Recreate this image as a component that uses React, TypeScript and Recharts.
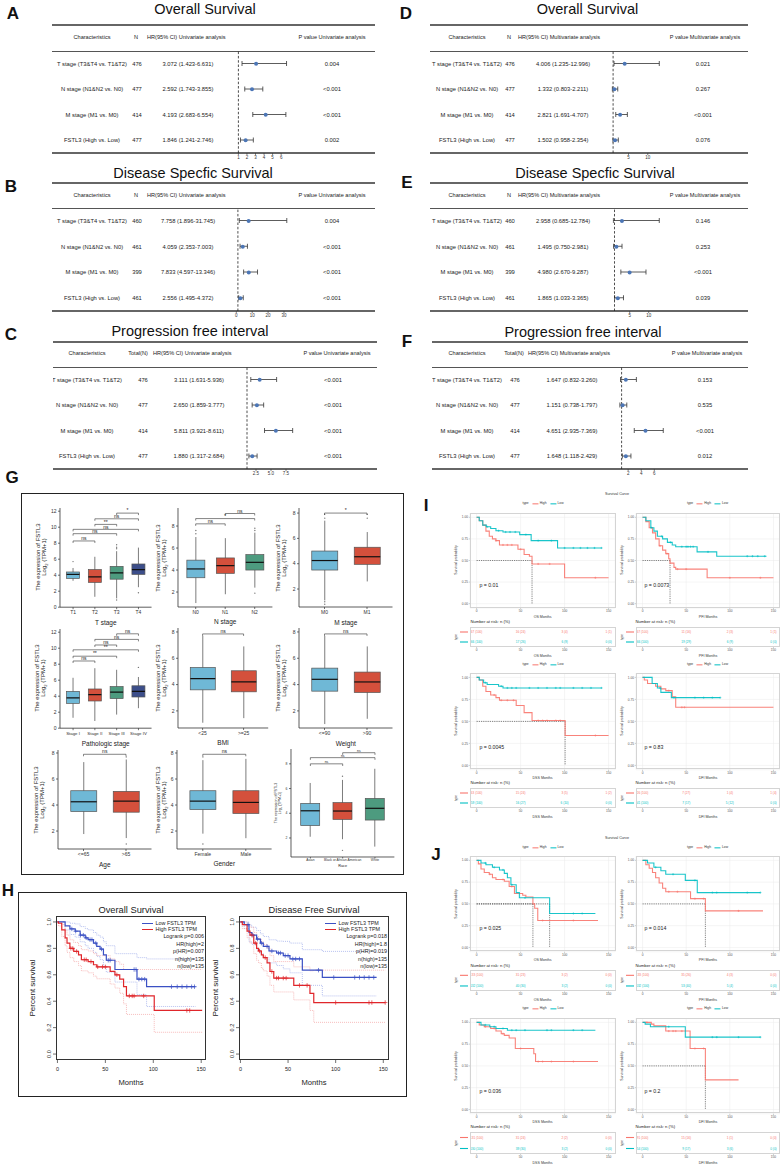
import React from 'react';
import { ComposedChart, Line, Bar, XAxis, YAxis, ReferenceLine, Scatter, CartesianGrid, Label } from 'recharts';

const FF = '"Liberation Sans", Arial, Helvetica, sans-serif';

/* ================= A–F : forest tables ================= */
const forestChars = ['T stage (T3&T4 vs. T1&T2)', 'N stage (N1&N2 vs. N0)', 'M stage (M1 vs. M0)', 'FSTL3 (High vs. Low)'];

const osUniN = [476, 477, 414, 477];
const osUniHR = [3.072, 2.592, 4.193, 1.846];
const osUniLo = [1.423, 1.743, 2.683, 1.241];
const osUniHi = [6.631, 3.855, 6.554, 2.746];
const osUniP = ['0.004', '<0.001', '<0.001', '0.002'];

const dssUniN = [460, 461, 399, 461];
const dssUniHR = [7.758, 4.059, 7.833, 2.556];
const dssUniLo = [1.896, 2.353, 4.597, 1.495];
const dssUniHi = [31.745, 7.003, 13.346, 4.372];
const dssUniP = ['0.004', '<0.001', '<0.001', '<0.001'];

const pfiUniN = [476, 477, 414, 477];
const pfiUniHR = [3.111, 2.65, 5.811, 1.88];
const pfiUniLo = [1.631, 1.859, 3.921, 1.317];
const pfiUniHi = [5.936, 3.777, 8.611, 2.684];
const pfiUniP = ['<0.001', '<0.001', '<0.001', '<0.001'];

const osMulN = [476, 477, 414, 477];
const osMulHR = [4.006, 1.332, 2.821, 1.502];
const osMulLo = [1.235, 0.803, 1.691, 0.958];
const osMulHi = [12.996, 2.211, 4.707, 2.354];
const osMulP = ['0.021', '0.267', '<0.001', '0.076'];

const dssMulN = [460, 461, 399, 461];
const dssMulHR = [2.958, 1.495, 4.98, 1.865];
const dssMulLo = [0.685, 0.75, 2.67, 1.033];
const dssMulHi = [12.784, 2.981, 9.287, 3.365];
const dssMulP = ['0.146', '0.253', '<0.001', '0.039'];

const pfiMulN = [476, 477, 414, 477];
const pfiMulHR = [1.647, 1.151, 4.651, 1.648];
const pfiMulLo = [0.832, 0.738, 2.935, 1.118];
const pfiMulHi = [3.26, 1.797, 7.369, 2.429];
const pfiMulP = ['0.153', '0.535', '<0.001', '0.012'];

const ticksA = [1, 2, 3, 4, 5, 6];
const ticksB = [0, 10, 20, 30];
const ticksC = [2.5, 5, 7.5];
const ticksDE = [5, 10];
const ticksF = [2, 4, 6];

/* ================= G : box plots ================= */
const tCats = ['T1', 'T2', 'T3', 'T4'];
const tLo = [3.3, 1.3, 1.1, 2.5];
const tQ1 = [3.6, 3.1, 3.5, 4.1];
const tMed = [4.1, 3.8, 4.3, 4.7];
const tQ3 = [4.4, 4.7, 5.1, 5.4];
const tHi = [4.9, 6.3, 7.0, 7.45];
const tOut = [[5.7], [], [0.9, 7.3, 7.5, 7.8], [1.8]];
const tBr: [number, number, number, string][] = [[0, 1, 8.28, 'ns'], [0, 2, 9.19, 'ns'], [0, 3, 9.73, 'ns'], [1, 2, 10.35, '**'], [1, 3, 11.05, 'ns'], [2, 3, 11.76, '*']];

const nCats = ['N0', 'N1', 'N2'];
const nLo = [1.0, 1.8, 2.4];
const nQ1 = [3.3, 3.7, 4.0];
const nMed = [4.1, 4.4, 4.7];
const nQ3 = [4.9, 5.1, 5.4];
const nHi = [7.0, 6.9, 7.4];
const nOut = [[7.3, 7.6], [], [1.9, 7.6, 7.8]];
const nBr: [number, number, number, string][] = [[0, 1, 8.2, 'ns'], [0, 2, 8.68, '*'], [1, 2, 9.14, 'ns']];

const mCats = ['M0', 'M1'];
const mLo = [1.1, 2.6];
const mQ1 = [3.5, 3.95];
const mMed = [4.25, 4.55];
const mQ3 = [5.0, 5.3];
const mHi = [7.4, 6.5];
const mOut = [[0.8, 1.0, 7.6, 7.9], [7.6, 7.9]];
const mBr: [number, number, number, string][] = [[0, 1, 8.0, '*']];

const pCats = ['Stage I', 'Stage II', 'Stage III', 'Stage IV'];
const pLo = [1.3, 0.9, 1.7, 2.5];
const pQ1 = [3.1, 3.4, 3.7, 3.9];
const pMed = [3.8, 4.2, 4.5, 4.6];
const pQ3 = [4.6, 4.9, 5.2, 5.3];
const pHi = [6.3, 7.5, 7.3, 6.4];
const pOut = [[], [], [], [7.6]];
const pBr: [number, number, number, string][] = [[0, 1, 8.4, 'ns'], [0, 2, 9.0, '**'], [0, 3, 9.8, '**'], [1, 2, 10.4, 'ns'], [1, 3, 11.1, 'ns'], [2, 3, 11.8, 'ns']];

const bmiCats = ['<25', '>=25'];
const bmiLo = [1.1, 1.45];
const bmiQ1 = [3.6, 3.45];
const bmiMed = [4.46, 4.2];
const bmiQ3 = [5.3, 5.05];
const bmiHi = [7.7, 6.9];
const bmiOut = [[], []];
const bmiBr: [number, number, number, string][] = [[0, 1, 7.85, 'ns']];

const wCats = ['<=90', '>90'];
const wLo = [1.0, 1.4];
const wQ1 = [3.5, 3.4];
const wMed = [4.4, 4.2];
const wQ3 = [5.25, 4.95];
const wHi = [7.7, 6.9];
const wOut = [[], []];
const wBr: [number, number, number, string][] = [[0, 1, 7.85, 'ns']];

const ageCats = ['<=65', '>65'];
const ageLo = [1.77, 1.46];
const ageQ1 = [3.5, 3.45];
const ageMed = [4.25, 4.3];
const ageQ3 = [5.1, 5.05];
const ageHi = [7.3, 7.5];
const ageOut = [[], [1.0, 7.7]];
const ageBr: [number, number, number, string][] = [[0, 1, 7.9, 'ns']];

const gCats = ['Female', 'Male'];
const gLo = [1.8, 1.45];
const gQ1 = [3.65, 3.35];
const gMed = [4.3, 4.2];
const gQ3 = [5.1, 5.1];
const gHi = [7.45, 7.55];
const gOut = [[1.0, 7.7], []];
const gBr: [number, number, number, string][] = [[0, 1, 7.9, 'ns']];

const rCats = ['Asian', 'Black or African American', 'White'];
const rLo = [2.1, 1.9, 1.3];
const rQ1 = [3.0, 3.5, 3.45];
const rMed = [4.2, 4.18, 4.4];
const rQ3 = [4.8, 4.86, 5.2];
const rHi = [6.45, 6.7, 7.6];
const rOut = [[], [1.0, 7.0], []];
const rBr: [number, number, number, string][] = [[0, 1, 8.0, 'ns'], [0, 2, 8.5, 'ns'], [1, 2, 8.9, 'ns']];

/* ================= H : GEPIA survival ================= */
const hOsLowT = [0, 8, 13, 18.5, 23.7, 29, 32, 37.6, 41, 44.5, 48, 51, 60, 83, 93, 144];
const hOsLowS = [1, 0.97, 0.947, 0.93, 0.9, 0.88, 0.866, 0.84, 0.815, 0.795, 0.75, 0.71, 0.64, 0.567, 0.51, 0.51];
const hOsLowUp = [1, 1, 0.99, 0.985, 0.965, 0.95, 0.94, 0.92, 0.9, 0.885, 0.85, 0.82, 0.76, 0.73, 0.72, 0.72];
const hOsLowDn = [1, 0.94, 0.905, 0.885, 0.85, 0.82, 0.8, 0.77, 0.74, 0.715, 0.665, 0.62, 0.545, 0.45, 0.36, 0.36];
const hOsLowC = [15, 19, 24, 27, 30, 34, 36, 40, 46, 53, 55, 80, 82, 85, 88, 91, 119, 125, 130, 135, 140, 143];

const hOsHighT = [0, 1, 4.5, 8, 10, 13, 17, 22, 25, 32, 37.6, 41, 55, 60, 65, 69, 72, 101, 151];
const hOsHighS = [1, 0.99, 0.94, 0.88, 0.84, 0.8, 0.777, 0.75, 0.714, 0.7, 0.676, 0.66, 0.626, 0.6, 0.567, 0.51, 0.44, 0.33, 0.33];
const hOsHighUp = [1, 1, 0.98, 0.935, 0.9, 0.865, 0.845, 0.82, 0.79, 0.78, 0.76, 0.745, 0.72, 0.7, 0.68, 0.64, 0.64, 0.64, 0.64];
const hOsHighDn = [1, 0.97, 0.89, 0.82, 0.77, 0.73, 0.7, 0.67, 0.63, 0.615, 0.59, 0.57, 0.53, 0.5, 0.46, 0.38, 0.3, 0.165, 0.165];
const hOsHighC = [14, 16, 20, 28, 30, 35, 42, 47, 50, 62, 75, 78, 80, 90, 135, 138];

const hDfsLowT = [0, 4, 9, 12, 17, 21, 24, 30, 38, 45, 52, 65, 86, 143];
const hDfsLowS = [1, 0.98, 0.92, 0.9, 0.87, 0.84, 0.815, 0.78, 0.765, 0.745, 0.72, 0.635, 0.58, 0.58];
const hDfsLowUp = [1, 1, 0.975, 0.96, 0.935, 0.91, 0.89, 0.865, 0.855, 0.853, 0.84, 0.79, 0.777, 0.777];
const hDfsLowDn = [1, 0.95, 0.85, 0.83, 0.79, 0.76, 0.73, 0.69, 0.67, 0.645, 0.615, 0.52, 0.44, 0.44];
const hDfsLowC = [8, 13, 18, 22, 28, 33, 40, 42, 47, 50, 55, 58, 62, 82, 98, 120, 125, 130, 135, 140];

const hDfsHighT = [0, 2, 7, 10, 14, 17, 19, 22, 24, 28, 31, 35, 56, 73, 77, 152];
const hDfsHighS = [1, 0.98, 0.93, 0.9, 0.84, 0.8, 0.78, 0.75, 0.73, 0.69, 0.625, 0.575, 0.52, 0.46, 0.39, 0.39];
const hDfsHighUp = [1, 1, 0.98, 0.96, 0.92, 0.89, 0.87, 0.85, 0.83, 0.8, 0.745, 0.7, 0.66, 0.63, 0.635, 0.635];
const hDfsHighDn = [1, 0.95, 0.88, 0.84, 0.76, 0.71, 0.69, 0.65, 0.63, 0.59, 0.52, 0.47, 0.41, 0.33, 0.24, 0.24];
const hDfsHighC = [12, 16, 20, 26, 33, 38, 40, 45, 48, 62, 70, 100, 135, 138, 152];

/* ================= I / J : survminer curves ================= */
const riskTimes = [0, 50, 100, 150];

const iOsHiT = [0, 3, 7, 10.6, 14.4, 18, 22, 26, 47, 54, 60, 63, 100, 150];
const iOsHiS = [1, 0.96, 0.91, 0.84, 0.78, 0.75, 0.73, 0.68, 0.63, 0.57, 0.55, 0.46, 0.3, 0.3];
const iOsHiC = [22, 30, 35, 40, 50, 70, 83, 135];
const iOsLoT = [0, 3, 7, 11, 16, 22, 30, 49, 62, 92, 142];
const iOsLoS = [1, 0.96, 0.91, 0.89, 0.87, 0.845, 0.83, 0.8, 0.73, 0.645, 0.645];
const iOsLoC = [12, 25, 33, 38, 44, 56, 70, 85, 100, 110, 118, 126, 134, 142];
const iOsMed = [63];
const iOsRiskHi = ['67 (100)', '16 (24)', '3 (4)', '1 (1)'];
const iOsRiskLo = ['66 (100)', '17 (26)', '6 (9)', '0 (0)'];

const iPfiHiT = [0, 3.8, 7.6, 11.4, 15, 19, 23, 26.6, 30, 31.5, 36, 38, 74, 150];
const iPfiHiS = [1, 0.95, 0.88, 0.82, 0.75, 0.67, 0.62, 0.58, 0.52, 0.47, 0.42, 0.4, 0.3, 0.3];
const iPfiHiC = [20, 28, 40, 50, 100, 135];
const iPfiLoT = [0, 3.8, 9.5, 13, 17, 23, 28.5, 34, 38, 62.5, 85, 142];
const iPfiLoS = [1, 0.96, 0.88, 0.84, 0.78, 0.75, 0.71, 0.68, 0.66, 0.6, 0.55, 0.55];
const iPfiLoC = [10, 22, 32, 45, 50, 52, 55, 58, 75, 120, 126, 132, 140];
const iPfiMed = [31.5];
const iPfiRiskHi = ['67 (100)', '11 (16)', '2 (3)', '1 (1)'];
const iPfiRiskLo = ['66 (100)', '19 (29)', '6 (9)', '0 (0)'];

const iDssHiT = [0, 3, 7, 10.6, 16, 22, 26, 45, 54, 63, 100.6, 150];
const iDssHiS = [1, 0.97, 0.9, 0.84, 0.8, 0.77, 0.74, 0.68, 0.6, 0.51, 0.34, 0.34];
const iDssHiC = [20, 28, 35, 42, 70, 75, 80, 90, 95, 135];
const iDssLoT = [0, 3, 8, 12, 25, 30, 142];
const iDssLoS = [1, 0.97, 0.94, 0.92, 0.9, 0.88, 0.88];
const iDssLoC = [10, 28, 35, 40, 45, 60, 70, 80, 90, 95, 110, 120, 130, 142];
const iDssMed = [100.6];
const iDssRiskHi = ['63 (100)', '15 (24)', '3 (5)', '1 (2)'];
const iDssRiskLo = ['59 (100)', '16 (27)', '6 (10)', '0 (0)'];

const iDfiHiT = [0, 2, 5.7, 15, 21, 26.6, 34, 38, 150];
const iDfiHiS = [1, 0.97, 0.93, 0.9, 0.87, 0.85, 0.78, 0.66, 0.66];
const iDfiHiC = [30, 45, 48];
const iDfiLoT = [0, 11, 17, 21, 33, 89];
const iDfiLoS = [1, 0.93, 0.88, 0.83, 0.77, 0.77];
const iDfiLoC = [20, 36, 60, 70, 80, 89];
const iDfiMed: number[] = [];
const iDfiRiskHi = ['26 (100)', '7 (27)', '1 (4)', '1 (4)'];
const iDfiRiskLo = ['41 (100)', '7 (17)', '5 (12)', '0 (0)'];

const jOsHiT = [0, 2, 5, 8.7, 14.4, 18, 22, 31.5, 37, 43, 52.4, 56, 64, 66, 69.5, 138];
const jOsHiS = [1, 0.96, 0.9, 0.86, 0.84, 0.8, 0.78, 0.76, 0.7, 0.62, 0.6, 0.58, 0.5, 0.45, 0.31, 0.31];
const jOsHiC = [15, 30, 40, 75, 110];
const jOsLoT = [0, 5, 10.6, 18, 26, 31.5, 35, 39, 45, 48.6, 83, 135];
const jOsLoS = [1, 0.97, 0.95, 0.92, 0.89, 0.85, 0.8, 0.72, 0.63, 0.57, 0.39, 0.39];
const jOsLoC = [10, 20, 30, 40, 55, 110, 120];
const jOsMed = [64, 83];
const jOsRiskHi = ['133 (100)', '31 (23)', '3 (2)', '0 (0)'];
const jOsRiskLo = ['132 (100)', '40 (30)', '3 (2)', '0 (0)'];

const jPfiHiT = [0, 3.8, 7.6, 11.4, 15, 19, 23, 26.6, 55, 72, 138];
const jPfiHiS = [1, 0.95, 0.91, 0.86, 0.8, 0.74, 0.68, 0.64, 0.56, 0.42, 0.42];
const jPfiHiC = [30, 40, 60, 70, 110];
const jPfiLoT = [0, 5.7, 13, 21, 26.6, 49, 62.7, 135];
const jPfiLoS = [1, 0.97, 0.92, 0.88, 0.84, 0.77, 0.63, 0.63];
const jPfiLoC = [15, 35, 60, 80, 85, 120, 135];
const jPfiMed = [72];
const jPfiRiskHi = ['133 (100)', '35 (26)', '4 (3)', '0 (0)'];
const jPfiRiskLo = ['132 (100)', '53 (40)', '5 (4)', '0 (0)'];

const jDssHiT = [0, 3, 8.7, 16, 22, 28, 31.5, 37, 44, 65, 67, 138];
const jDssHiS = [1, 0.97, 0.95, 0.93, 0.9, 0.87, 0.85, 0.82, 0.7, 0.64, 0.55, 0.55];
const jDssHiC = [10, 20, 30, 50, 70, 75, 85, 110];
const jDssLoT = [0, 5, 15, 22, 35, 135];
const jDssLoS = [1, 0.97, 0.95, 0.93, 0.91, 0.91];
const jDssLoC = [10, 20, 30, 40, 45, 55, 80, 85, 110, 120];
const jDssMed: number[] = [];
const jDssRiskHi = ['131 (100)', '31 (24)', '2 (2)', '0 (0)'];
const jDssRiskLo = ['130 (100)', '39 (30)', '3 (2)', '0 (0)'];

const jDfiHiT = [0, 10, 13, 26.6, 54.5, 72, 110];
const jDfiHiS = [1, 0.98, 0.96, 0.9, 0.7, 0.34, 0.34];
const jDfiHiC = [5, 30, 35, 38, 45, 60, 70];
const jDfiLoT = [0, 3, 9, 49, 135];
const jDfiLoS = [1, 0.98, 0.95, 0.83, 0.83];
const jDfiLoC = [30, 80, 85, 110, 135];
const jDfiMed = [72];
const jDfiRiskHi = ['91 (100)', '15 (16)', '1 (1)', '0 (0)'];
const jDfiRiskLo = ['54 (100)', '9 (17)', '3 (6)', '0 (0)'];

/* ================= helpers ================= */
const RED = '#F8766D';
const TEAL = '#00BFC4';
const BOXPAL = ['#6FB8D6', '#D4503C', '#4D9B7F', '#3C4E8A'];

const stepAt = (T: number[], S: number[], t: number) => {
  let v = S[0];
  for (let i = 0; i < T.length; i++) if (T[i] <= t) v = S[i];
  return v;
};
const toPts = (T: number[], S: number[]) => T.map((t, i) => ({ t, s: S[i] }));
const censPts = (T: number[], S: number[], C: number[]) => C.map((c) => ({ t: c, s: stepAt(T, S, c) }));
const plusShape = (color: string, h: number, w: number) => (pp: any) => (
  <g stroke={color} strokeWidth={w}>
    <line x1={pp.cx - h} x2={pp.cx + h} y1={pp.cy} y2={pp.cy} />
    <line x1={pp.cx} x2={pp.cx} y1={pp.cy - h} y2={pp.cy + h} />
  </g>
);

function Txt({ x, y, size, children, anchor = 'middle', weight = 400, color = '#222', rotate = 0 }: any) {
  const tx = anchor === 'middle' ? '-50%' : anchor === 'end' ? '-100%' : '0%';
  return (
    <div style={{ position: 'absolute', left: x, top: y, fontSize: size, fontWeight: weight, color, whiteSpace: 'nowrap', lineHeight: 1, fontFamily: FF, transform: `translate(${tx}, -50%) rotate(${rotate}deg)` }}>
      {children}
    </div>
  );
}
const HLine = ({ x1, x2, y, w = 1, c = '#555' }: any) => (
  <div style={{ position: 'absolute', left: x1, top: y - w / 2, width: x2 - x1, height: w, background: c }} />
);
const Frame = ({ x, y, w, h, c = '#333', bw = 1 }: any) => (
  <div style={{ position: 'absolute', left: x, top: y, width: w, height: h, border: `${bw}px solid ${c}`, boxSizing: 'border-box', pointerEvents: 'none' }} />
);

/* ================= Forest component ================= */
function Forest(p: any) {
  const rows = forestChars.map((c, i) => ({ name: c, n: p.n[i], hr: p.hr[i], lo: p.lo[i], hi: p.hi[i], pv: p.p[i] }));
  const fL = p.x1 + (p.dom[0] - 1) * p.ppu;
  const fR = p.x1 + (p.dom[1] - 1) * p.ppu;
  const W = p.right - p.left;
  const H = p.botLine - p.headLine + 12;
  const cc = { c: p.colChar - p.left, n: p.colN - p.left, h: p.colHR - p.left, p: p.colP - p.left };
  const tick = (t: any) => {
    const r = rows.find((rr) => rr.name === t.payload.value);
    if (!r) return <g />;
    const common = { y: t.y, dy: '0.35em', fontSize: 5.8, fill: '#222', textAnchor: 'middle' as const };
    return (
      <g>
        <text x={cc.c} {...common}>{r.name}</text>
        <text x={cc.n} {...common}>{r.n}</text>
        <text x={cc.h} {...common}>{`${r.hr.toFixed(3)} (${r.lo.toFixed(3)}-${r.hi.toFixed(3)})`}</text>
        <text x={cc.p} {...common}>{r.pv}</text>
      </g>
    );
  };
  const ciShape = (s: any) => {
    const a = Math.min(s.x, s.x + s.width);
    const b = Math.max(s.x, s.x + s.width);
    const cy = s.y + s.height / 2;
    const h = Math.abs(s.height) / 2;
    return (
      <g stroke="#333" strokeWidth={0.8}>
        <line x1={a} x2={b} y1={cy} y2={cy} />
        <line x1={a} x2={a} y1={cy - h} y2={cy + h} />
        <line x1={b} x2={b} y1={cy - h} y2={cy + h} />
      </g>
    );
  };
  return (
    <>
      <Txt x={p.letterX} y={p.letterY} size={17} weight={700} color="#111">{p.letter}</Txt>
      <Txt x={p.titleX} y={p.titleY} size={14.5} color="#111">{p.title}</Txt>
      <HLine x1={p.left} x2={p.right} y={p.topLine} w={1.3} c="#666" />
      <HLine x1={p.left} x2={p.right} y={p.headLine} w={1} c="#555" />
      <HLine x1={p.left} x2={p.right} y={p.botLine} w={1.3} c="#666" />
      <Txt x={p.colChar} y={p.headY} size={5.6}>Characteristics</Txt>
      <Txt x={p.nHeadX} y={p.headY} size={5.6}>{p.nHead}</Txt>
      <Txt x={p.hrHeadX} y={p.headY} size={5.6} anchor="start">{p.hrHead}</Txt>
      <Txt x={p.pHeadX} y={p.headY} size={5.6}>{p.pHead}</Txt>
      <div style={{ position: 'absolute', left: p.left, top: p.headLine }}>
        <ComposedChart layout="vertical" width={W} height={H} data={rows} margin={{ top: 0, right: p.right - fR, bottom: 0, left: 0 }}>
          <XAxis type="number" domain={p.dom} ticks={p.ticks} allowDataOverflow axisLine={false} tickSize={2} tickMargin={1}
            tickLine={{ stroke: '#333', strokeWidth: 0.6 }} tick={{ fontSize: 4.5, fill: '#333' }} height={12} interval={0}
            tickFormatter={p.fmt} />
          <YAxis type="category" dataKey="name" width={fL - p.left} axisLine={false} tickLine={false} tick={tick} interval={0} />
          <ReferenceLine x={1} stroke="#222" strokeDasharray="2.5 1.8" strokeWidth={0.8} />
          <Bar dataKey={(d: any) => [d.lo, d.hi]} barSize={5} shape={ciShape} isAnimationActive={false} />
          <Line dataKey="hr" stroke="none" dot={{ r: 2, fill: '#4C76B6', stroke: 'none' }} activeDot={false} isAnimationActive={false} />
        </ComposedChart>
      </div>
    </>
  );
}

/* ================= Box plot component ================= */
function YLab({ x, y, size }: any) {
  return (
    <div style={{ position: 'absolute', left: x, top: y, fontSize: size, lineHeight: 1.05, textAlign: 'center', whiteSpace: 'nowrap', color: '#222', fontFamily: FF, transform: 'translate(-50%, -50%) rotate(-90deg)' }}>
      <div>The expression of FSTL3</div>
      <div>Log<span style={{ fontSize: size * 0.7, position: 'relative', top: size * 0.25 }}>2</span> (TPM+1)</div>
    </div>
  );
}

function BoxPlot(p: any) {
  const { cats, lo, q1, med, q3, hi, out, c1, s, top, bottom, dom, ticks, xTitle, br, ylabX, small } = p;
  const n = cats.length;
  const L = c1 - 0.6 * s;
  const R = c1 + (n - 1) * s + 0.6 * s;
  const gL = 14, gT = 3, gR = 2;
  const gB = small ? 12 : 20;
  const fs = small ? 3.3 : p.tickFs || 5;
  const rows = cats.map((c: string, i: number) => ({ name: c, lo: lo[i], q1: q1[i], med: med[i], q3: q3[i], hi: hi[i], out: out[i] }));
  const shape = (b: any) => {
    const d = b.payload;
    const yt = Math.min(b.y, b.y + b.height);
    const yb = Math.max(b.y, b.y + b.height);
    const py = (v: number) => yb - ((v - d.lo) / (d.hi - d.lo)) * (yb - yt);
    const cx = b.x + b.width / 2;
    const ci = cats.indexOf(d.name);
    return (
      <g>
        <line x1={cx} x2={cx} y1={py(d.hi)} y2={py(d.lo)} stroke="#5a5a5a" strokeWidth={0.8} />
        <rect x={b.x} y={py(d.q3)} width={b.width} height={py(d.q1) - py(d.q3)} fill={BOXPAL[ci]} stroke="#555" strokeWidth={0.7} />
        <line x1={b.x} x2={b.x + b.width} y1={py(d.med)} y2={py(d.med)} stroke="#111" strokeWidth={1.2} />
        {d.out.map((v: number, k: number) => <circle key={k} cx={cx} cy={py(v)} r={0.7} fill="#777" />)}
      </g>
    );
  };
  const xTick = (t: any) => (
    <text x={t.x} y={t.y} dy="0.75em" textAnchor="middle" fontSize={fs} fill="#333">{t.payload.value}</text>
  );
  const tip = (dom[1] - dom[0]) * 0.02;
  return (
    <>
      <YLab x={ylabX} y={(top + bottom) / 2} size={small ? 3.6 : 6} />
      <div style={{ position: 'absolute', left: L - gL, top: top - gT }}>
        <ComposedChart width={R - L + gL + gR} height={bottom - top + gT + gB} data={rows} margin={{ top: gT, right: gR, left: 0, bottom: 0 }} barCategoryGap="20%">
          <XAxis dataKey="name" padding={{ left: 0.1 * s, right: 0.1 * s }} height={gB} interval={0}
            axisLine={{ stroke: '#333', strokeWidth: 0.8 }} tickLine={{ stroke: '#333', strokeWidth: 0.7 }} tickSize={small ? 1.5 : 2} tickMargin={small ? 0.5 : 1.5}
            tick={xTick}>
            <Label value={xTitle} position="insideBottom" offset={small ? 1.5 : 2.5} fontSize={small ? 3.8 : 6.5} fill="#222" />
          </XAxis>
          <YAxis type="number" domain={dom} ticks={ticks} allowDataOverflow width={gL} interval={0}
            axisLine={{ stroke: '#333', strokeWidth: 0.8 }} tickLine={{ stroke: '#333', strokeWidth: 0.7 }} tickSize={2} tickMargin={1.5}
            tick={{ fontSize: small ? 3.4 : 5, fill: '#333' }} />
          <Bar dataKey={(d: any) => [d.lo, d.hi]} shape={shape} isAnimationActive={false} />
          {br.map((b: any, k: number) => (
            <ReferenceLine key={'h' + k} segment={[{ x: cats[b[0]], y: b[2] }, { x: cats[b[1]], y: b[2] }]} stroke="#333" strokeWidth={0.6}
              label={{ value: b[3], position: 'top', fontSize: small ? 3.4 : 5, fill: '#222', offset: 0.8 }} />
          ))}
          {br.map((b: any, k: number) => (
            <ReferenceLine key={'a' + k} segment={[{ x: cats[b[0]], y: b[2] }, { x: cats[b[0]], y: b[2] - tip }]} stroke="#333" strokeWidth={0.6} />
          ))}
          {br.map((b: any, k: number) => (
            <ReferenceLine key={'b' + k} segment={[{ x: cats[b[1]], y: b[2] }, { x: cats[b[1]], y: b[2] - tip }]} stroke="#333" strokeWidth={0.6} />
          ))}
        </ComposedChart>
      </div>
    </>
  );
}

/* ================= H : R-style KM ================= */
const BLUE = '#3B50C4';
const BRED = '#E0262B';
function KMR(p: any) {
  const { L, R, T, B, xMax, title, low, high, lowC, highC, stats, ylabX, legX, statX } = p;
  const gL = 12, gB = 27;
  const rotTick = (t: any) => (
    <text x={t.x} y={t.y} transform={`rotate(-90 ${t.x} ${t.y})`} textAnchor="middle" fontSize={5.5} fill="#222">
      {Number(t.payload.value).toFixed(1)}
    </text>
  );
  const band = (T0: number[], S0: number[], col: string, k: string) => (
    <Line key={k} data={toPts(T0, S0)} dataKey="s" type="stepAfter" stroke={col} strokeWidth={0.7} strokeDasharray="1 1" dot={false} activeDot={false} isAnimationActive={false} />
  );
  return (
    <>
      <Txt x={(L + R) / 2} y={T - 5} size={9.3}>{title}</Txt>
      <Txt x={ylabX} y={(T + B) / 2} size={8} rotate={-90}>Percent survival</Txt>
      <div style={{ position: 'absolute', left: L - gL, top: T }}>
        <ComposedChart width={R - L + gL} height={B - T + gB} margin={{ top: 0, right: 0, left: 0, bottom: 0 }}>
          <XAxis type="number" dataKey="t" domain={[-1.5, xMax]} ticks={[0, 50, 100, 150]} allowDataOverflow axisLine={false} tickSize={3} tickMargin={4}
            tickLine={{ stroke: '#333', strokeWidth: 0.7 }} tick={{ fontSize: 5.5, fill: '#222' }} height={gB} interval={0}>
            <Label value="Months" position="insideBottom" offset={2} fontSize={7.6} fill="#222" />
          </XAxis>
          <YAxis type="number" domain={[-0.045, 1.045]} ticks={[0, 0.2, 0.4, 0.6, 0.8, 1]} allowDataOverflow width={gL} axisLine={false}
            tickSize={3} tickMargin={1.5} tickLine={{ stroke: '#333', strokeWidth: 0.7 }} tick={rotTick} interval={0} />
          {band(low.T, low.up, '#9AA8EA', 'lu')}
          {band(low.T, low.dn, '#9AA8EA', 'ld')}
          {band(high.T, high.up, '#F3A0A0', 'hu')}
          {band(high.T, high.dn, '#F3A0A0', 'hd')}
          <Line data={toPts(low.T, low.S)} dataKey="s" type="stepAfter" stroke={BLUE} strokeWidth={1.2} dot={false} activeDot={false} isAnimationActive={false} />
          <Line data={toPts(high.T, high.S)} dataKey="s" type="stepAfter" stroke={BRED} strokeWidth={1.2} dot={false} activeDot={false} isAnimationActive={false} />
          <Scatter data={censPts(low.T, low.S, lowC)} dataKey="s" shape={plusShape(BLUE, 2.2, 0.7)} isAnimationActive={false} />
          <Scatter data={censPts(high.T, high.S, highC)} dataKey="s" shape={plusShape(BRED, 2.2, 0.7)} isAnimationActive={false} />
        </ComposedChart>
      </div>
      <Frame x={L} y={T} w={R - L} h={B - T} c="#333" bw={0.8} />
      <div style={{ position: 'absolute', left: legX, top: T + 7, width: 11, height: 1.2, background: BLUE }} />
      <div style={{ position: 'absolute', left: legX, top: T + 13, width: 11, height: 1.2, background: BRED }} />
      <Txt x={legX + 13.5} y={T + 7.5} size={5.4} anchor="start">Low FSTL3 TPM</Txt>
      <Txt x={legX + 13.5} y={T + 13.5} size={5.4} anchor="start">High FSTL3 TPM</Txt>
      {stats.map((s: string, k: number) => (
        <Txt key={k} x={statX} y={T + 21 + k * 7.6} size={5.4} anchor="end">{s}</Txt>
      ))}
    </>
  );
}

/* ================= I / J : survminer KM ================= */
function GGLegend({ x, y }: any) {
  const seg = (c: string) => <span style={{ display: 'inline-block', width: 6, height: 0.8, background: c, margin: '0 1.5px' }} />;
  return (
    <div style={{ position: 'absolute', left: x, top: y, transform: 'translate(-50%, -50%)', display: 'flex', alignItems: 'center', fontSize: 3.3, color: '#333', fontFamily: FF, whiteSpace: 'nowrap', lineHeight: 1 }}>
      <span style={{ marginRight: 2 }}>type</span>{seg(RED)}<span style={{ marginRight: 2 }}>High</span>{seg(TEAL)}<span>Low</span>
    </div>
  );
}

function KMG(p: any) {
  const { L, R, T, B, hiT, hiS, hiC, loT, loS, loC, med, xTitle, pText, pY, rT, rB, numY, legY, riskHi, riskLo } = p;
  const gL = 16, gB = 10;
  const xDom = [-7.5, 157.5];
  const riskData = riskTimes.map((t, i) => ({ t, row: 2, label: riskHi[i] })).concat(riskTimes.map((t, i) => ({ t, row: 1, label: riskLo[i] })));
  const riskShape = (pp: any) => (
    <text x={pp.cx} y={pp.cy} dy="0.35em" textAnchor="middle" fontSize={3.1} fill={pp.payload.row === 2 ? RED : TEAL}>{pp.payload.label}</text>
  );
  const riskTick = (t: any) => (
    <line x1={t.x - 8} x2={t.x} y1={t.y} y2={t.y} stroke={t.payload.value === 2 ? RED : TEAL} strokeWidth={1.1} />
  );
  const axX = (title: string) => (
    <XAxis type="number" dataKey="t" domain={xDom} ticks={riskTimes} allowDataOverflow height={gB} axisLine={false} tickSize={1.2} tickMargin={0.4}
      tickLine={{ stroke: '#888', strokeWidth: 0.4 }} tick={{ fontSize: 3.2, fill: '#555' }} interval={0}>
      <Label value={title} position="insideBottom" offset={0.3} fontSize={3.6} fill="#333" />
    </XAxis>
  );
  return (
    <>
      <GGLegend x={(L + R) / 2} y={legY} />
      <div style={{ position: 'absolute', left: L - gL, top: T }}>
        <ComposedChart width={R - L + gL} height={B - T + gB} margin={{ top: 0, right: 0, left: 0, bottom: 0 }}>
          <CartesianGrid stroke="#ebebeb" strokeWidth={0.5} />
          {axX(xTitle)}
          <YAxis type="number" domain={[-0.05, 1.05]} ticks={[0, 0.25, 0.5, 0.75, 1]} allowDataOverflow width={gL} axisLine={false} tickSize={1.2} tickMargin={0.8}
            tickLine={{ stroke: '#888', strokeWidth: 0.4 }} tick={{ fontSize: 3.2, fill: '#555' }} tickFormatter={(v: number) => v.toFixed(2)} interval={0} />
          {med.map((m: number, k: number) => (
            <ReferenceLine key={'mh' + k} segment={[{ x: 0, y: 0.5 }, { x: m, y: 0.5 }]} stroke="#333" strokeDasharray="1.2 1" strokeWidth={0.6} />
          ))}
          {med.map((m: number, k: number) => (
            <ReferenceLine key={'mv' + k} segment={[{ x: m, y: 0.5 }, { x: m, y: 0 }]} stroke="#333" strokeDasharray="1.2 1" strokeWidth={0.6} />
          ))}
          <Line data={toPts(hiT, hiS)} dataKey="s" type="stepAfter" stroke={RED} strokeOpacity={0.9} strokeWidth={1.1} dot={false} activeDot={false} isAnimationActive={false} />
          <Line data={toPts(loT, loS)} dataKey="s" type="stepAfter" stroke={TEAL} strokeOpacity={0.9} strokeWidth={1.1} dot={false} activeDot={false} isAnimationActive={false} />
          <Scatter data={censPts(hiT, hiS, hiC)} dataKey="s" shape={plusShape(RED, 1.1, 0.5)} isAnimationActive={false} />
          <Scatter data={censPts(loT, loS, loC)} dataKey="s" shape={plusShape(TEAL, 1.1, 0.5)} isAnimationActive={false} />
        </ComposedChart>
      </div>
      <Frame x={L} y={T} w={R - L} h={B - T} c="#d4d4d4" bw={0.6} />
      <Txt x={L - 13} y={(T + B) / 2} size={3.5} rotate={-90} color="#333">Survival probability</Txt>
      <Txt x={L + 9} y={pY} size={5.2} anchor="start" color="#222">{pText}</Txt>
      <Txt x={L} y={numY} size={4.2} anchor="start" color="#222">Number at risk: n (%)</Txt>
      <div style={{ position: 'absolute', left: L - gL, top: rT }}>
        <ComposedChart width={R - L + gL} height={rB - rT + gB} margin={{ top: 0, right: 0, left: 0, bottom: 0 }}>
          {axX(xTitle)}
          <YAxis type="number" domain={[0.5, 2.5]} ticks={[1, 2]} width={gL} axisLine={false} tickLine={false} tickSize={0} tickMargin={2} tick={riskTick} interval={0} />
          <Scatter data={riskData} dataKey="row" shape={riskShape} isAnimationActive={false} />
        </ComposedChart>
      </div>
      <Frame x={L} y={rT} w={R - L} h={rB - rT} c="#d4d4d4" bw={0.6} />
      <Txt x={L - 13} y={(rT + rB) / 2} size={3.2} rotate={-90} color="#333">type</Txt>
    </>
  );
}

/* ================= App ================= */
export default function App() {
  const leftUni = { left: 52, right: 375, colChar: 92, colN: 137, colHR: 188, colP: 332, nHead: 'N', nHeadX: 136, hrHeadX: 147, pHeadX: 332, hrHead: 'HR(95% CI) Univariate analysis', pHead: 'P value Univariate analysis' };
  const rightMul = { left: 430, right: 748, colChar: 467, colN: 510, colHR: 563, colP: 703, nHead: 'N', nHeadX: 509, hrHeadX: 518, pHeadX: 705, hrHead: 'HR(95% CI) Multivariate analysis', pHead: 'P value Multivariate analysis' };
  const iL = { L: 470.4, R: 615.6 };
  const iR = { L: 635.5, R: 779.5 };
  const row1 = { T: 512.5, B: 607.5, rT: 627, rB: 647, numY: 622, legY: 504, pY: 586 };
  const row2 = { T: 672.6, B: 769.4, rT: 788, rB: 808, numY: 783, legY: 665, pY: 748 };
  const row3 = { T: 855.6, B: 951.4, rT: 969.7, rB: 991, numY: 966, legY: 848, pY: 929 };
  const row4 = { T: 1017.6, B: 1113.4, rT: 1131.8, rB: 1153.8, numY: 1127, legY: 1009, pY: 1092 };
  return (
    <div style={{ position: 'absolute', left: 0, top: 0, width: 781, height: 1164, background: '#fff', fontFamily: FF, overflow: 'hidden' }}>
      {/* A */}
      <Forest {...leftUni} letter="A" letterX={13} letterY={12.5} title="Overall Survival" titleX={205} titleY={8.5}
        topLine={25} headY={38} headLine={51} botLine={153}
        n={osUniN} hr={osUniHR} lo={osUniLo} hi={osUniHi} p={osUniP} x1={238.4} ppu={8.55} dom={[0.6, 7.2]} ticks={ticksA} />
      {/* B */}
      <Forest {...leftUni} letter="B" letterX={11} letterY={186} title="Disease Specfic Survival" titleX={193} titleY={172.5}
        topLine={183} headY={196} headLine={208} botLine={311}
        n={dssUniN} hr={dssUniHR} lo={dssUniLo} hi={dssUniHi} p={dssUniP} x1={237.9} ppu={1.59} dom={[-0.5, 34]} ticks={ticksB} />
      {/* C */}
      <Forest {...leftUni} left={53} right={377} colChar={87} colN={143} colHR={199} colP={333} nHead="Total(N)" nHeadX={138} hrHeadX={153} pHeadX={337}
        letter="C" letterX={11} letterY={334} title="Progression free interval" titleX={190} titleY={331}
        topLine={342} headY={354} headLine={367} botLine={469}
        n={pfiUniN} hr={pfiUniHR} lo={pfiUniLo} hi={pfiUniHi} p={pfiUniP} x1={247} ppu={6.0} dom={[0.6, 9.6]} ticks={ticksC} fmt={(v: number) => v.toFixed(1)} />
      {/* D */}
      <Forest {...rightMul} letter="D" letterX={406} letterY={12.5} title="Overall Survival" titleX={587.5} titleY={8.5}
        topLine={25} headY={38} headLine={51} botLine={153}
        n={osMulN} hr={osMulHR} lo={osMulLo} hi={osMulHi} p={osMulP} x1={613.1} ppu={3.85} dom={[0.5, 14]} ticks={ticksDE} />
      {/* E */}
      <Forest {...rightMul} letter="E" letterX={407} letterY={182} title="Disease Specfic Survival" titleX={595} titleY={172.5}
        topLine={183} headY={196} headLine={208} botLine={311}
        n={dssMulN} hr={dssMulHR} lo={dssMulLo} hi={dssMulHi} p={dssMulP} x1={614.5} ppu={3.8} dom={[0.5, 14]} ticks={ticksDE} />
      {/* F */}
      <Forest {...rightMul} left={432} colN={515} colHR={572} colP={705} nHead="Total(N)" nHeadX={514} hrHeadX={528} pHeadX={707}
        letter="F" letterX={407} letterY={341} title="Progression free interval" titleX={583} titleY={332}
        topLine={342} headY={354} headLine={367} botLine={469}
        n={pfiMulN} hr={pfiMulHR} lo={pfiMulLo} hi={pfiMulHi} p={pfiMulP} x1={621.6} ppu={6.54} dom={[0.6, 8]} ticks={ticksF} />

      {/* G */}
      <Txt x={12} y={477} size={17} weight={700} color="#111">G</Txt>
      <Frame x={21} y={493} w={383} h={382} c="#222" bw={1.6} />
      <BoxPlot cats={tCats} lo={tLo} q1={tQ1} med={tMed} q3={tQ3} hi={tHi} out={tOut} br={tBr} c1={73.3} s={21.8} top={507.8} bottom={607} dom={[0, 12.4]} ticks={[0, 2, 4, 6, 8, 10, 12]} xTitle="T stage" ylabX={41} />
      <BoxPlot cats={nCats} lo={nLo} q1={nQ1} med={nMed} q3={nQ3} hi={nHi} out={nOut} br={nBr} c1={196} s={29.5} top={508} bottom={607} dom={[0.64, 9.64]} ticks={[2, 4, 6, 8]} xTitle="N stage" ylabX={161} />
      <BoxPlot cats={mCats} lo={mLo} q1={mQ1} med={mMed} q3={mQ3} hi={mHi} out={mOut} br={mBr} c1={324} s={42.5} top={508} bottom={607} dom={[0.58, 8.4]} ticks={[2, 4, 6, 8]} xTitle="M stage" ylabX={281} />
      <BoxPlot cats={pCats} lo={pLo} q1={pQ1} med={pMed} q3={pQ3} hi={pHi} out={pOut} br={pBr} c1={73.3} s={21.8} top={628.8} bottom={728} dom={[0, 12.4]} ticks={[0, 2, 4, 6, 8, 10, 12]} xTitle="Pathologic stage" ylabX={40} tickFs={4.4} />
      <BoxPlot cats={bmiCats} lo={bmiLo} q1={bmiQ1} med={bmiMed} q3={bmiQ3} hi={bmiHi} out={bmiOut} br={bmiBr} c1={203} s={41} top={628} bottom={728} dom={[0.7, 8.3]} ticks={[2, 4, 6, 8]} xTitle="BMI" ylabX={161} />
      <BoxPlot cats={wCats} lo={wLo} q1={wQ1} med={wMed} q3={wQ3} hi={wHi} out={wOut} br={wBr} c1={324} s={42.5} top={628} bottom={728} dom={[0.7, 8.3]} ticks={[2, 4, 6, 8]} xTitle="Weight" ylabX={281} />
      <BoxPlot cats={ageCats} lo={ageLo} q1={ageQ1} med={ageMed} q3={ageQ3} hi={ageHi} out={ageOut} br={ageBr} c1={83.5} s={42.5} top={750} bottom={849} dom={[0.62, 8.23]} ticks={[2, 4, 6, 8]} xTitle="Age" ylabX={39} />
      <BoxPlot cats={gCats} lo={gLo} q1={gQ1} med={gMed} q3={gQ3} hi={gHi} out={gOut} br={gBr} c1={203} s={43} top={750} bottom={849} dom={[0.62, 8.23]} ticks={[2, 4, 6, 8]} xTitle="Gender" ylabX={161} />
      <BoxPlot cats={rCats} lo={rLo} q1={rQ1} med={rMed} q3={rQ3} hi={rHi} out={rOut} br={rBr} c1={310.5} s={32.3} top={749} bottom={857} dom={[0.46, 9.2]} ticks={[2, 4, 6, 8]} xTitle="Race" ylabX={279} small />

      {/* H */}
      <Txt x={8} y={890} size={17} weight={700} color="#111">H</Txt>
      <Frame x={18} y={892} w={389} h={205} c="#222" bw={1.6} />
      <KMR L={56} R={206} T={916} B={1060} xMax={155} title="Overall Survival" ylabX={33} legX={142} statX={204}
        low={{ T: hOsLowT, S: hOsLowS, up: hOsLowUp, dn: hOsLowDn }} high={{ T: hOsHighT, S: hOsHighS, up: hOsHighUp, dn: hOsHighDn }}
        lowC={hOsLowC} highC={hOsHighC} stats={['Logrank p=0.006', 'HR(high)=2', 'p(HR)=0.007', 'n(high)=135', 'n(low)=135']} />
      <KMR L={239} R={389} T={916} B={1060} xMax={156} title="Disease Free Survival" ylabX={216} legX={325} statX={387}
        low={{ T: hDfsLowT, S: hDfsLowS, up: hDfsLowUp, dn: hDfsLowDn }} high={{ T: hDfsHighT, S: hDfsHighS, up: hDfsHighUp, dn: hDfsHighDn }}
        lowC={hDfsLowC} highC={hDfsHighC} stats={['Logrank p=0.018', 'HR(high)=1.8', 'p(HR)=0.019', 'n(high)=135', 'n(low)=135']} />

      {/* I */}
      <Txt x={426} y={505} size={17} weight={700} color="#111">I</Txt>
      <Txt x={617} y={495} size={3.7} color="#333">Survival Curve</Txt>
      <KMG {...iL} {...row1} hiT={iOsHiT} hiS={iOsHiS} hiC={iOsHiC} loT={iOsLoT} loS={iOsLoS} loC={iOsLoC} med={iOsMed} xTitle="OS Months" pText="p = 0.01" riskHi={iOsRiskHi} riskLo={iOsRiskLo} />
      <KMG {...iR} {...row1} hiT={iPfiHiT} hiS={iPfiHiS} hiC={iPfiHiC} loT={iPfiLoT} loS={iPfiLoS} loC={iPfiLoC} med={iPfiMed} xTitle="PFI Months" pText="p = 0.0073" riskHi={iPfiRiskHi} riskLo={iPfiRiskLo} />
      <KMG {...iL} {...row2} hiT={iDssHiT} hiS={iDssHiS} hiC={iDssHiC} loT={iDssLoT} loS={iDssLoS} loC={iDssLoC} med={iDssMed} xTitle="DSS Months" pText="p = 0.0045" riskHi={iDssRiskHi} riskLo={iDssRiskLo} />
      <KMG {...iR} {...row2} hiT={iDfiHiT} hiS={iDfiHiS} hiC={iDfiHiC} loT={iDfiLoT} loS={iDfiLoS} loC={iDfiLoC} med={iDfiMed} xTitle="DFI Months" pText="p = 0.83" riskHi={iDfiRiskHi} riskLo={iDfiRiskLo} />

      {/* J */}
      <Txt x={436} y={854} size={17} weight={700} color="#111">J</Txt>
      <Txt x={617} y={839} size={3.7} color="#333">Survival Curve</Txt>
      <KMG {...iL} {...row3} hiT={jOsHiT} hiS={jOsHiS} hiC={jOsHiC} loT={jOsLoT} loS={jOsLoS} loC={jOsLoC} med={jOsMed} xTitle="OS Months" pText="p = 0.025" riskHi={jOsRiskHi} riskLo={jOsRiskLo} />
      <KMG {...iR} {...row3} hiT={jPfiHiT} hiS={jPfiHiS} hiC={jPfiHiC} loT={jPfiLoT} loS={jPfiLoS} loC={jPfiLoC} med={jPfiMed} xTitle="PFI Months" pText="p = 0.014" riskHi={jPfiRiskHi} riskLo={jPfiRiskLo} />
      <KMG {...iL} {...row4} hiT={jDssHiT} hiS={jDssHiS} hiC={jDssHiC} loT={jDssLoT} loS={jDssLoS} loC={jDssLoC} med={jDssMed} xTitle="DSS Months" pText="p = 0.036" riskHi={jDssRiskHi} riskLo={jDssRiskLo} />
      <KMG {...iR} {...row4} hiT={jDfiHiT} hiS={jDfiHiS} hiC={jDfiHiC} loT={jDfiLoT} loS={jDfiLoS} loC={jDfiLoC} med={jDfiMed} xTitle="DFI Months" pText="p = 0.2" riskHi={jDfiRiskHi} riskLo={jDfiRiskLo} />
    </div>
  );
}
